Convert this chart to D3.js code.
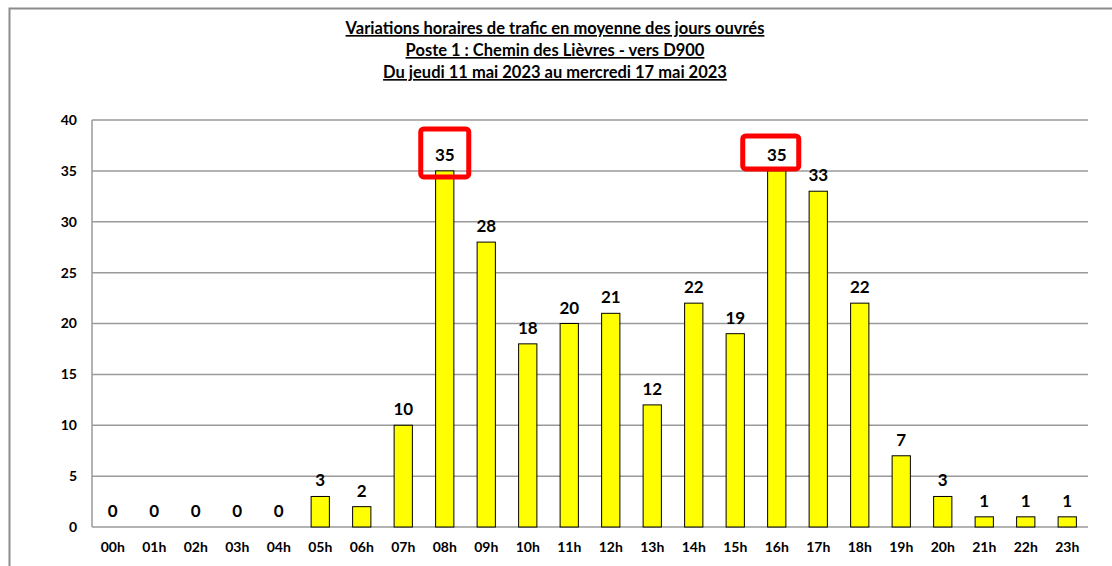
<!DOCTYPE html>
<html>
<head>
<meta charset="utf-8">
<script src="https://cdn.jsdelivr.net/npm/d3@7"></script>
<style>
  body { margin: 0; background: #fff; }
  text { font-family: Lato, "Open Sans", sans-serif; font-weight: bold; fill: #000; }
</style>
</head>
<body>
<div id="chart"></div>
<script>
var hours = ["00h","01h","02h","03h","04h","05h","06h","07h","08h","09h","10h","11h",
  "12h","13h","14h","15h","16h","17h","18h","19h","20h","21h","22h","23h"];
var traffic = [0,0,0,0,0,3,2,10,35,28,18,20,21,12,22,19,35,33,22,7,3,1,1,1];
var yTicks = [0,5,10,15,20,25,30,35,40];
var titleLines = [
  "Variations horaires de trafic en moyenne des jours ouvrés",
  "Poste 1 : Chemin des Lièvres - vers D900",
  "Du jeudi 11 mai 2023 au mercredi 17 mai 2023"
];
var highlighted = ["08h", "16h"];

var width = 1112, height = 566;
var margin = { top: 120, right: 24, bottom: 39, left: 92 };

var svg = d3.select("#chart").append("svg")
  .attr("width", width)
  .attr("height", height);

// outer chart frame (right and bottom edges fall outside the picture)
svg.append("rect")
  .attr("x", 9.5).attr("y", 8.5)
  .attr("width", width + 20).attr("height", height + 20)
  .attr("fill", "none")
  .attr("stroke", "#8c8c8c")
  .attr("stroke-width", 2);

svg.selectAll(".title")
  .data(titleLines)
  .enter().append("text")
  .attr("class", "title")
  .attr("x", 555)
  .attr("y", function(d, i) { return 34 + i * 22; })
  .attr("text-anchor", "middle")
  .attr("text-decoration", "underline")
  .style("font-size", "16.5px")
  .text(function(d) { return d; });

var x = d3.scaleBand()
  .domain(hours)
  .range([margin.left, width - margin.right])
  .paddingInner(0.56)
  .paddingOuter(0.28);

var y = d3.scaleLinear()
  .domain([0, 40])
  .range([height - margin.bottom, margin.top]);

var g = svg.append("g");

// gridlines
g.selectAll(".grid")
  .data(yTicks)
  .enter().append("line")
  .attr("x1", margin.left)
  .attr("x2", width - margin.right)
  .attr("y1", function(d) { return y(d); })
  .attr("y2", function(d) { return y(d); })
  .attr("stroke", "#9a9a9a")
  .attr("stroke-width", 1.5);

g.append("line")
  .attr("x1", margin.left).attr("x2", margin.left)
  .attr("y1", y(40)).attr("y2", y(0))
  .attr("stroke", "#9a9a9a")
  .attr("stroke-width", 1.5);

var yAxis = svg.append("g")
  .attr("transform", "translate(" + (margin.left - 15) + ",0)")
  .call(d3.axisLeft(y).tickValues(yTicks).tickSize(0).tickPadding(0));
yAxis.select(".domain").remove();
yAxis.selectAll("text").style("font-size", "14px").style("font-family", "Lato, sans-serif");

var xAxis = svg.append("g")
  .attr("transform", "translate(0," + y(0) + ")")
  .call(d3.axisBottom(x).tickSize(0).tickPadding(15));
xAxis.select(".domain").remove();
xAxis.selectAll("text").style("font-size", "14px").style("font-family", "Lato, sans-serif");

// bars
g.selectAll(".bar")
  .data(traffic)
  .enter().append("rect")
  .attr("class", "bar")
  .attr("x", function(d, i) { return x(hours[i]); })
  .attr("y", function(d) { return y(d); })
  .attr("width", x.bandwidth())
  .attr("height", function(d) { return y(0) - y(d); })
  .attr("fill", "#ffff00")
  .attr("stroke", "#000")
  .attr("stroke-width", 1);

// value labels
g.selectAll(".val")
  .data(traffic)
  .enter().append("text")
  .attr("class", "val")
  .attr("x", function(d, i) { return x(hours[i]) + x.bandwidth() / 2; })
  .attr("y", function(d) { return y(d) - 10; })
  .attr("text-anchor", "middle")
  .style("font-size", "17px")
  .text(function(d) { return d; });

// red highlight boxes on the two peaks: [width, height, x shift, top above bar]
var boxSize = { "08h": [48, 48, 0, 42], "16h": [56, 33, -6, 35] };
highlighted.forEach(function(h) {
  var i = hours.indexOf(h);
  var b = boxSize[h];
  var cx = x(h) + x.bandwidth() / 2 + b[2];
  svg.append("rect")
    .attr("x", cx - b[0] / 2)
    .attr("y", y(traffic[i]) - b[3])
    .attr("width", b[0])
    .attr("height", b[1])
    .attr("rx", 3)
    .attr("fill", "none")
    .attr("stroke", "#ff0000")
    .attr("stroke-width", 5);
});
</script>
</body>
</html>
